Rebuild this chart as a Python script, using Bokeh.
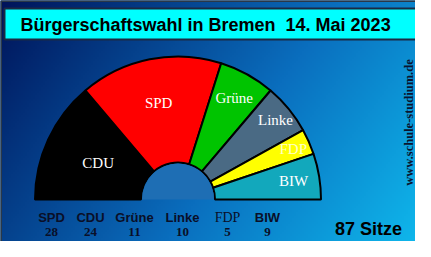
import numpy as np
from bokeh.plotting import figure
from bokeh.models import Range1d
from bokeh.core.properties import value
from bokeh.embed import file_html
from bokeh.resources import INLINE

# ---- data ----
title = "Bürgerschaftswahl in Bremen \u00a014. Mai 2023"
parties_seat_order = ["CDU", "SPD", "Grüne", "Linke", "FDP", "BIW"]   # left to right in hemicycle
seats_seat_order = [24, 28, 11, 10, 5, 9]
colors = ["#000000", "#ff0000", "#00c400", "#4a6a84", "#ffff00", "#12a8bc"]
label_colors = ["#ffffff", "#ffffff", "#ffffff", "#ffffff", "#ffffc8", "#ffffff"]
legend_parties = ["SPD", "CDU", "Grüne", "Linke", "FDP", "BIW"]
legend_seats = [28, 24, 11, 10, 5, 9]
total_label = "87 Sitze"
watermark = "www.schule-studium.de"

W, H = 431, 257
def Y(y):  # convert top-based pixel to y-up
    return H - y

p = figure(width=415, height=241, output_backend="svg", toolbar_location=None,
           x_range=Range1d(0, 415), y_range=Range1d(Y(241), Y(0)),
           min_border=0)
p.axis.visible = False
p.grid.visible = False
p.outline_line_color = None
p.background_fill_color = "#0a5aa0"
p.border_fill_color = "#0a5aa0"

# background gradient
nx, ny = 216, 129
xs = np.linspace(0, 1, nx)
ys = np.linspace(0, 1, ny)  # 0 = top
XX, YY = np.meshgrid(xs, ys)
t = 0.7 * XX + 0.3 * YY
stops_t = [0.0, 0.55, 1.0]
stops_c = np.array([[0, 20, 90], [10, 110, 190], [15, 190, 240]], dtype=float)
img = np.zeros((ny, nx), dtype=np.uint32)
view = img.view(dtype=np.uint8).reshape((ny, nx, 4))
for k in range(3):
    view[:, :, k] = np.interp(t, stops_t, stops_c[:, k]).astype(np.uint8)
view[:, :, 3] = 255
img = img[::-1]  # image rows go bottom-up
p.image_rgba(image=[img], x=0, y=0, dw=W, dh=H)

# outer frame
p.quad(left=0.5, right=427, bottom=Y(252), top=Y(0.5), fill_color=None,
       line_color="#2a3848", line_width=2)

# title box
p.quad(left=4, right=427, bottom=Y(39), top=Y(8), fill_color="#00ffff",
       line_color="#1a2a44", line_width=2)
p.text(x=[20], y=[Y(24)], text=[title], text_font=value("Liberation Sans"),
       text_font_style="bold", text_font_size="18px", text_color="#000000",
       text_baseline="middle", text_align="left")

# hemicycle
cx, cy = 177.5, Y(199)
r_in, r_out = 37, 143
deg = np.pi / sum(seats_seat_order)
cum = np.cumsum([0] + seats_seat_order)
starts = [np.pi - cum[i + 1] * deg for i in range(len(seats_seat_order))]
ends = [np.pi - cum[i] * deg for i in range(len(seats_seat_order))]
p.annular_wedge(x=cx, y=cy, inner_radius=r_in, outer_radius=r_out,
                start_angle=starts, end_angle=ends, fill_color=colors,
                line_color="#000000", line_width=2)
p.wedge(x=cx, y=cy, radius=r_in - 1, start_angle=0, end_angle=np.pi,
        fill_color="#1e6eb4", line_color=None)

label_r = [88, 98, 116, 126, 126, 117]
mids = [(s + e) / 2 for s, e in zip(starts, ends)]
lx = [cx + r * np.cos(a) for r, a in zip(label_r, mids)]
ly = [cy + r * np.sin(a) for r, a in zip(label_r, mids)]
p.text(x=lx, y=ly, text=parties_seat_order, text_color=label_colors,
       text_font=value("Liberation Serif"), text_font_size="15px",
       text_align="center", text_baseline="middle")

# legend below
leg_x = [51, 90, 134, 182, 227, 267]
serif_flags = [False, False, False, False, True, False]
for name, n, x, sf in zip(legend_parties, legend_seats, leg_x, serif_flags):
    p.text(x=[x], y=[Y(217)], text=[name],
           text_font=value("Liberation Serif" if sf else "Liberation Sans"),
           text_font_style="normal" if sf else "bold",
           text_font_size="14px" if sf else "13px", text_color="#0a0f28",
           text_align="center", text_baseline="middle")
    p.text(x=[x], y=[Y(231)], text=[str(n)], text_font=value("Liberation Serif"),
           text_font_style="bold", text_font_size="13px", text_color="#0a0f28",
           text_align="center", text_baseline="middle")

p.text(x=[368], y=[Y(228)], text=[total_label], text_font=value("Liberation Sans"),
       text_font_style="bold", text_font_size="18px", text_color="#000000",
       text_align="center", text_baseline="middle")

p.text(x=[408], y=[Y(122)], text=[watermark], angle=np.pi / 2,
       text_font=value("Liberation Serif"), text_font_style="bold",
       text_font_size="12.5px", text_color="#0a1430",
       text_align="center", text_baseline="middle")

open("out.html", "w").write(file_html(p, INLINE))
